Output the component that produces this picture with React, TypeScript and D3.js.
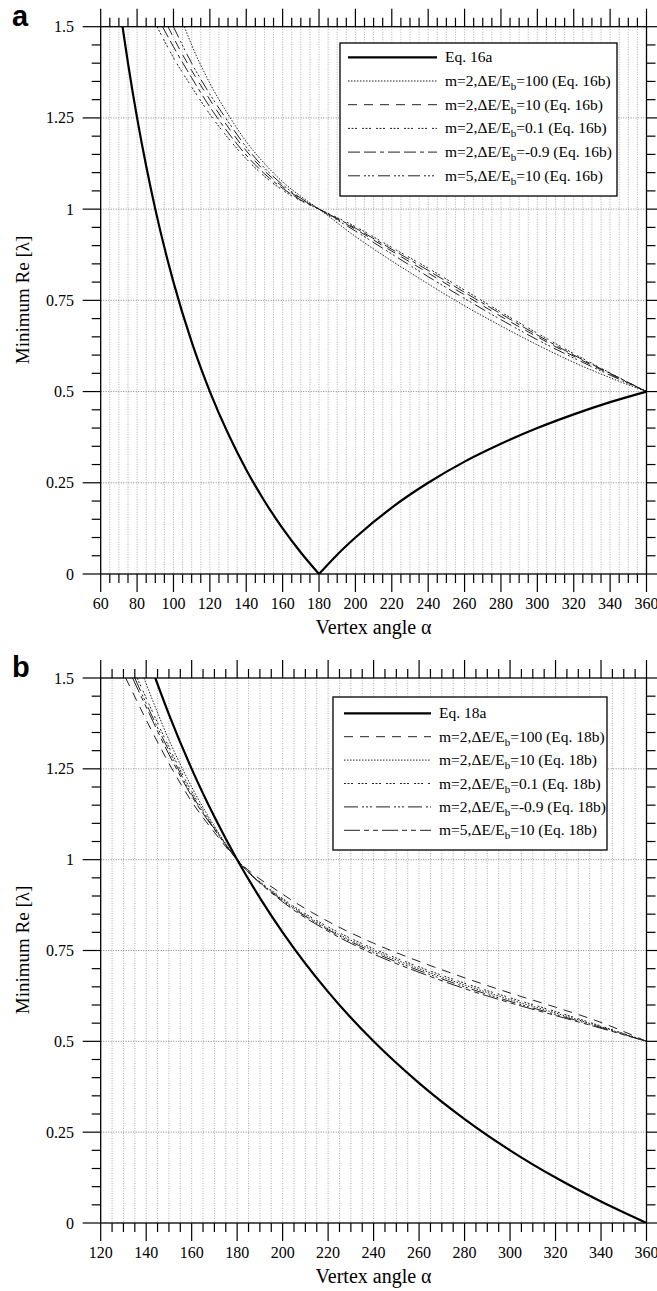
import { useEffect, useRef } from "react";
import * as d3 from "d3";

// ---- panel a data (vertex angle, minimum Re lambda) ----
const eq16aLow = [[72, 1.5], [75, 1.4], [80, 1.25], [85, 1.118], [90, 1.0], [100, 0.8], [110, 0.636], [120, 0.5], [130, 0.385], [140, 0.286], [150, 0.2], [160, 0.125], [170, 0.059], [180, 0]];
const eq16aHigh = [[180, 0], [190, 0.053], [200, 0.1], [220, 0.182], [240, 0.25], [260, 0.308], [280, 0.357], [300, 0.4], [320, 0.4375], [340, 0.471], [360, 0.5]];
const a100 = [[106, 1.5], [110, 1.45], [120, 1.345], [130, 1.26], [140, 1.185], [150, 1.125], [160, 1.075], [170, 1.035], [180, 1], [200, 0.925], [220, 0.858], [240, 0.795], [260, 0.735], [280, 0.68], [300, 0.628], [320, 0.58], [340, 0.538], [360, 0.5]];
const a10 = [[97, 1.5], [100, 1.47], [110, 1.38], [120, 1.3], [130, 1.225], [140, 1.16], [150, 1.105], [160, 1.062], [170, 1.028], [180, 1], [200, 0.945], [220, 0.885], [240, 0.825], [260, 0.765], [280, 0.706], [300, 0.65], [320, 0.597], [340, 0.548], [360, 0.5]];
const a01 = [[91, 1.5], [100, 1.415], [110, 1.335], [120, 1.26], [130, 1.195], [140, 1.138], [150, 1.09], [160, 1.052], [170, 1.023], [180, 1], [200, 0.952], [220, 0.895], [240, 0.838], [260, 0.778], [280, 0.718], [300, 0.66], [320, 0.604], [340, 0.551], [360, 0.5]];
const aNeg09 = [[94, 1.5], [100, 1.445], [110, 1.36], [120, 1.28], [130, 1.21], [140, 1.148], [150, 1.097], [160, 1.057], [170, 1.025], [180, 1], [200, 0.948], [220, 0.89], [240, 0.832], [260, 0.772], [280, 0.713], [300, 0.655], [320, 0.6], [340, 0.55], [360, 0.5]];
const aM5 = [[100, 1.5], [110, 1.4], [120, 1.315], [130, 1.24], [140, 1.17], [150, 1.113], [160, 1.067], [170, 1.03], [180, 1], [200, 0.94], [220, 0.877], [240, 0.815], [260, 0.755], [280, 0.697], [300, 0.642], [320, 0.592], [340, 0.545], [360, 0.5]];

// ---- panel b data ----
const eq18a = [[144, 1.5], [150, 1.4], [160, 1.25], [170, 1.118], [180, 1], [190, 0.895], [200, 0.8], [220, 0.636], [240, 0.5], [260, 0.385], [280, 0.286], [300, 0.2], [320, 0.125], [340, 0.059], [360, 0]];
const b100 = [[131, 1.5], [140, 1.385], [150, 1.265], [160, 1.16], [170, 1.075], [180, 1], [200, 0.905], [220, 0.83], [240, 0.77], [260, 0.72], [280, 0.675], [300, 0.633], [320, 0.594], [340, 0.552], [360, 0.5]];
const b10 = [[139, 1.5], [150, 1.33], [160, 1.2], [170, 1.092], [180, 1], [200, 0.89], [220, 0.81], [240, 0.75], [260, 0.7], [280, 0.655], [300, 0.615], [320, 0.578], [340, 0.54], [360, 0.5]];
const b01 = [[136, 1.5], [140, 1.445], [150, 1.31], [160, 1.188], [170, 1.088], [180, 1], [200, 0.893], [220, 0.815], [240, 0.755], [260, 0.705], [280, 0.66], [300, 0.62], [320, 0.582], [340, 0.542], [360, 0.5]];
const bNeg09 = [[135, 1.5], [140, 1.43], [150, 1.3], [160, 1.18], [170, 1.085], [180, 1], [200, 0.887], [220, 0.807], [240, 0.745], [260, 0.695], [280, 0.65], [300, 0.61], [320, 0.574], [340, 0.538], [360, 0.5]];
const bM5 = [[134, 1.5], [140, 1.42], [150, 1.29], [160, 1.175], [170, 1.083], [180, 1], [200, 0.884], [220, 0.803], [240, 0.74], [260, 0.69], [280, 0.645], [300, 0.606], [320, 0.571], [340, 0.536], [360, 0.5]];

// legend labels: [text, subscript, rest]
const legendA = [["Eq. 16a"], ["m=2,ΔE/E", "b", "=100 (Eq. 16b)"], ["m=2,ΔE/E", "b", "=10 (Eq. 16b)"], ["m=2,ΔE/E", "b", "=0.1 (Eq. 16b)"], ["m=2,ΔE/E", "b", "=-0.9 (Eq. 16b)"], ["m=5,ΔE/E", "b", "=10 (Eq. 16b)"]];
const legendB = [["Eq. 18a"], ["m=2,ΔE/E", "b", "=100 (Eq. 18b)"], ["m=2,ΔE/E", "b", "=10 (Eq. 18b)"], ["m=2,ΔE/E", "b", "=0.1 (Eq. 18b)"], ["m=2,ΔE/E", "b", "=-0.9 (Eq. 18b)"], ["m=5,ΔE/E", "b", "=10 (Eq. 18b)"]];

const yTicks = [0, 0.25, 0.5, 0.75, 1, 1.25, 1.5];

const SOLID = { dash: null, width: 2.2, color: "#000" };
const DOTTED = { dash: "1.5,1.5", width: 1, color: "#222" };
const LONGDASH = { dash: "9,7", width: 1, color: "#222" };
const SHORTDASH = { dash: "2,1.5,2,1.5,2,5", width: 1, color: "#222" };

const panels = [
  {
    id: "a", top: 26.7, bottom: 574, xDomain: [60, 360], tickY: 609, titleY: 634, yTitleY: 300, letterY: 26,
    series: [
      { data: [eq16aLow, eq16aHigh], style: SOLID },
      { data: [a100], style: DOTTED },
      { data: [a10], style: LONGDASH },
      { data: [a01], style: SHORTDASH },
      { data: [aNeg09], style: { dash: "12,4,12,4,4,4", width: 1, color: "#222" } },
      { data: [aM5], style: { dash: "12,4,2,2,2,2,2,4", width: 1, color: "#222" } },
    ],
    legend: legendA, box: { x: 340, y: 43, w: 277, h: 153 }, row0: 57.3, rowStep: 23.7, lineX: [348, 437], textX: 445,
  },
  {
    id: "b", top: 678, bottom: 1223, xDomain: [120, 360], tickY: 1258, titleY: 1283, yTitleY: 950, letterY: 677,
    series: [
      { data: [eq18a], style: SOLID },
      { data: [b100], style: LONGDASH },
      { data: [b10], style: DOTTED },
      { data: [b01], style: SHORTDASH },
      { data: [bNeg09], style: { dash: "14,4,2,2,2,2,2,4", width: 1, color: "#222" } },
      { data: [bM5], style: { dash: "16,4,5,4,5,4", width: 1, color: "#222" } },
    ],
    legend: legendB, box: { x: 333, y: 697, w: 274, h: 153 }, row0: 713.3, rowStep: 23.4, lineX: [344, 431], textX: 439,
  },
];

const LEFT = 100.7;
const RIGHT = 646.5;
const SERIF = "'Liberation Serif', 'Times New Roman', serif";

function drawPanel(svg, p) {
  const x = d3.scaleLinear().domain(p.xDomain).range([LEFT, RIGHT]);
  const y = d3.scaleLinear().domain([0, 1.5]).range([p.bottom, p.top]);
  const g = svg.append("g");

  // grid
  const nx = (p.xDomain[1] - p.xDomain[0]) / 5;
  const xMinor = d3.range(0, nx + 1).map((i) => p.xDomain[0] + i * 5);
  g.selectAll(".vgrid")
    .data(xMinor.slice(1, -1))
    .join("line")
    .attr("x1", (d) => x(d)).attr("x2", (d) => x(d))
    .attr("y1", p.top).attr("y2", p.bottom)
    .attr("stroke", "#999").attr("stroke-width", 0.8).attr("stroke-dasharray", "1,1.5");
  g.selectAll(".hgrid")
    .data(yTicks.slice(1, -1))
    .join("line")
    .attr("x1", LEFT).attr("x2", RIGHT)
    .attr("y1", (d) => y(d)).attr("y2", (d) => y(d))
    .attr("stroke", "#777").attr("stroke-width", 0.9).attr("stroke-dasharray", "1,1.5");

  // curves
  const clipId = "clip-" + p.id;
  svg.append("clipPath").attr("id", clipId)
    .append("rect").attr("x", LEFT).attr("y", p.top).attr("width", RIGHT - LEFT).attr("height", p.bottom - p.top);
  const line = d3.line().x((d) => x(d[0])).y((d) => y(d[1])).curve(d3.curveMonotoneX);
  const cg = g.append("g").attr("clip-path", `url(#${clipId})`);
  p.series.slice().reverse().forEach((s) => {
    s.data.forEach((arr) => {
      cg.append("path")
        .attr("d", line(arr))
        .attr("fill", "none")
        .attr("stroke", s.style.color)
        .attr("stroke-width", s.style.width)
        .attr("stroke-dasharray", s.style.dash);
    });
  });

  // frame
  g.append("rect").attr("x", LEFT).attr("y", p.top).attr("width", RIGHT - LEFT).attr("height", p.bottom - p.top)
    .attr("fill", "none").attr("stroke", "#000").attr("stroke-width", 1.3);

  // x ticks (bottom & top, outward)
  xMinor.forEach((v, i) => {
    const len = i % 4 === 0 ? 18 : 9;
    g.append("line").attr("x1", x(v)).attr("x2", x(v)).attr("y1", p.bottom).attr("y2", p.bottom + len).attr("stroke", "#000").attr("stroke-width", 1.2);
    g.append("line").attr("x1", x(v)).attr("x2", x(v)).attr("y1", p.top).attr("y2", p.top - len).attr("stroke", "#000").attr("stroke-width", 1.2);
  });
  // y ticks (left & right, outward)
  d3.range(0, 31).forEach((i) => {
    const v = i * 0.05;
    const len = i % 5 === 0 ? 18 : 9;
    g.append("line").attr("x1", LEFT).attr("x2", LEFT - len).attr("y1", y(v)).attr("y2", y(v)).attr("stroke", "#000").attr("stroke-width", 1.2);
    g.append("line").attr("x1", RIGHT).attr("x2", RIGHT + len).attr("y1", y(v)).attr("y2", y(v)).attr("stroke", "#000").attr("stroke-width", 1.2);
  });

  // tick labels
  g.selectAll(".xl")
    .data(xMinor.filter((_, i) => i % 4 === 0))
    .join("text")
    .attr("x", (d) => x(d)).attr("y", p.tickY)
    .attr("text-anchor", "middle").attr("font-family", SERIF).attr("font-size", 16)
    .text((d) => String(d));
  g.selectAll(".yl")
    .data(yTicks)
    .join("text")
    .attr("x", 74).attr("y", (d) => y(d) + 5.5)
    .attr("text-anchor", "end").attr("font-family", SERIF).attr("font-size", 16)
    .text((d) => String(d));

  // titles
  g.append("text").attr("x", (LEFT + RIGHT) / 2).attr("y", p.titleY)
    .attr("text-anchor", "middle").attr("font-family", SERIF).attr("font-size", 20)
    .text("Vertex angle α");
  g.append("text").attr("transform", `translate(29,${p.yTitleY}) rotate(-90)`)
    .attr("text-anchor", "middle").attr("font-family", SERIF).attr("font-size", 19)
    .text("Minimum Re [λ]");
  g.append("text").attr("x", 12).attr("y", p.letterY)
    .attr("font-family", "'Liberation Sans', Arial, sans-serif").attr("font-weight", "bold").attr("font-size", 29)
    .text(p.id);

  // legend
  const lg = g.append("g");
  lg.append("rect").attr("x", p.box.x).attr("y", p.box.y).attr("width", p.box.w).attr("height", p.box.h)
    .attr("fill", "#fff").attr("stroke", "#000").attr("stroke-width", 1.3);
  p.series.forEach((s, i) => {
    const cy = p.row0 + i * p.rowStep;
    lg.append("line").attr("x1", p.lineX[0]).attr("x2", p.lineX[1]).attr("y1", cy).attr("y2", cy)
      .attr("stroke", s.style.color).attr("stroke-width", s.style.width).attr("stroke-dasharray", s.style.dash);
    const t = lg.append("text").attr("x", p.textX).attr("y", cy + 5)
      .attr("font-family", SERIF).attr("font-size", 15.5);
    const parts = p.legend[i];
    t.append("tspan").text(parts[0]);
    if (parts.length > 1) {
      t.append("tspan").attr("dy", 4).attr("font-size", 11).text(parts[1]);
      t.append("tspan").attr("dy", -4).attr("font-size", 15.5).text(parts[2]);
    }
  });
}

export default function App() {
  const svgRef = useRef(null);

  useEffect(() => {
    const svg = d3.select(svgRef.current);
    svg.selectAll("*").remove();
    svg.append("rect").attr("width", 657).attr("height", 1291).attr("fill", "#fff");
    panels.forEach((p) => drawPanel(svg, p));
  }, []);

  return (
    <svg ref={svgRef} width={657} height={1291} style={{ position: "absolute", left: 0, top: 0 }} />
  );
}
